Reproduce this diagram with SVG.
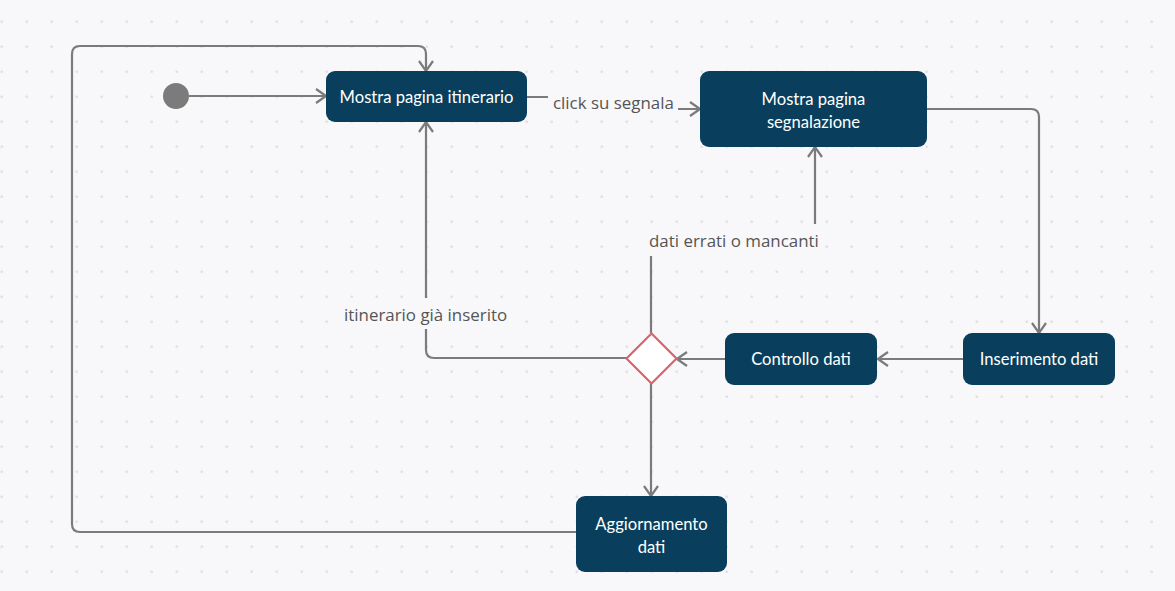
<svg xmlns="http://www.w3.org/2000/svg" width="1175" height="591" viewBox="0 0 1175 591">
<style>
.node rect{fill:#093f5d;}
.node text{fill:#ffffff;font-family:Lato,"Liberation Sans",sans-serif;font-size:16.6px;text-anchor:middle;}
.edge{fill:none;stroke:#7b7b7b;stroke-width:2.2;}
.lbl{fill:#555555;font-family:"Open Sans","Noto Sans",sans-serif;font-size:16.9px;}
.lblbg{fill:#f8f8fa;}
</style>
<defs>
<pattern id="dots" x="1.7" y="21.7" width="25" height="25" patternUnits="userSpaceOnUse">
<circle cx="0" cy="0" r="1.3" fill="#dcdce0"/>
<circle cx="25" cy="0" r="1.3" fill="#dcdce0"/>
<circle cx="0" cy="25" r="1.3" fill="#dcdce0"/>
<circle cx="25" cy="25" r="1.3" fill="#dcdce0"/>
</pattern>
<marker id="arr" viewBox="0 0 12 16" refX="11" refY="8" markerWidth="12" markerHeight="16" markerUnits="userSpaceOnUse" orient="auto">
<path d="M1,1 L11,8 L1,15" fill="none" stroke="#7b7b7b" stroke-width="2.2"/>
</marker>
</defs>
<rect width="1175" height="591" fill="#f8f8fa"/>
<rect width="1175" height="591" fill="url(#dots)"/>

<g id="connectors">
<path class="edge" d="M189,96 H326" marker-end="url(#arr)"/>
<path class="edge" d="M527,97 H595 V109 H700" marker-end="url(#arr)"/>
<path class="edge" d="M927,109 H1031 Q1039,109 1039,117 V333" marker-end="url(#arr)"/>
<path class="edge" d="M963,359 H878" marker-end="url(#arr)"/>
<path class="edge" d="M725,359 H677" marker-end="url(#arr)"/>
<path class="edge" d="M651,333 V241 H815 V147" marker-end="url(#arr)"/>
<path class="edge" d="M627,358 H434 Q426,358 426,350 V122" marker-end="url(#arr)"/>
<path class="edge" d="M651,383 V496" marker-end="url(#arr)"/>
<path class="edge" d="M576,532 H80 Q72,532 72,524 V54 Q72,46 80,46 H418 Q426,46 426,54 V71" marker-end="url(#arr)"/>
<rect class="lblbg" x="548" y="90" width="130" height="26"/>
<text class="lbl" x="553" y="109">click su segnala</text>
<rect class="lblbg" x="643" y="224" width="182" height="32"/>
<text class="lbl" x="649" y="247">dati errati o mancanti</text>
<rect class="lblbg" x="338" y="298" width="176" height="31"/>
<text class="lbl" x="344" y="321">itinerario già inserito</text>
</g>

<g id="start"><circle cx="176" cy="96" r="13" fill="#7b7b7b"/></g>
<g id="n1" class="node"><rect x="326" y="71" width="201" height="51" rx="9"/><text x="426.5" y="102.5">Mostra pagina itinerario</text></g>
<g id="n2" class="node"><rect x="700" y="71" width="227" height="76" rx="9"/><text x="813.5" y="105">Mostra pagina</text><text x="813.5" y="128">segnalazione</text></g>
<g id="n3" class="node"><rect x="963" y="333" width="152" height="52" rx="9"/><text x="1039" y="365">Inserimento dati</text></g>
<g id="n4" class="node"><rect x="725" y="333" width="152" height="52" rx="9"/><text x="801" y="365">Controllo dati</text></g>
<g id="decision"><path d="M651.5,333.5 L676.5,358.5 L651.5,383.5 L626.5,358.5 Z" fill="#ffffff" stroke="#d9646c" stroke-width="2.2"/></g>
<g id="n5" class="node"><rect x="576" y="496" width="151" height="76" rx="9"/><text x="651.5" y="530">Aggiornamento</text><text x="651.5" y="553">dati</text></g>
</svg>
